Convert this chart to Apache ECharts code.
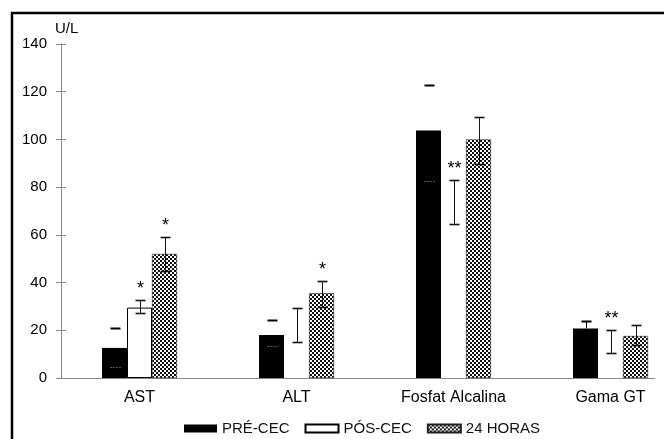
<!DOCTYPE html>
<html>
<head>
<meta charset="utf-8">
<script src="https://cdn.jsdelivr.net/npm/echarts/dist/echarts.min.js"></script>
<style>
html,body{margin:0;padding:0;background:#fff;}
#chart{width:664px;height:439px;}
</style>
</head>
<body>
<div id="chart"></div>
<script>
const categories = ['AST', 'ALT', 'Fosfat Alcalina', 'Gama GT'];
const seriesNames = ['PRÉ-CEC', 'PÓS-CEC', '24 HORAS'];

const preMean = [12.6, 18, 103.7, 20.8];
const preHigh = [21, 24.2, 122.8, 23.9];
const preLow  = [4.6, 13.5, 82.7, null];

const posMean = [29.5, 22, 73.8, 15.3];
const posHigh = [32.7, 29.5, 83, 20];
const posLow  = [27.1, 15, 64.5, 10.6];

const h24Mean = [52, 35.5, 100, 17.6];
const h24High = [59.2, 40.8, 109.2, 22.2];
const h24Low  = [44.8, 29.6, 89.6, 13.8];

const preSig = ['', '', '', ''];
const posSig = ['*', '', '**', '**'];
const h24Sig = ['*', '*', '', ''];

const yMin = 0, yMax = 140, yStep = 20;

// style-only settings
const preStemVisible = [false, false, false, true];
const posOutlined = [true, false, false, false];
const FONT = 'Liberation Sans, Arial, Helvetica, sans-serif';
const BAR_W = 25;

const pc = document.createElement('canvas');
pc.width = 4; pc.height = 4;
const g = pc.getContext('2d');
g.fillStyle = '#fff'; g.fillRect(0, 0, 4, 4);
g.fillStyle = '#111'; g.fillRect(0, 0, 2, 2); g.fillRect(2, 2, 2, 2);
const patternFill = { image: pc, repeat: 'repeat' };

function errData(mean, low, high, sig) {
  return categories.map((c, i) => [i, mean[i], low[i], high[i], sig[i]]);
}

function makeRender(sIdx) {
  return function (params, api) {
    const i = api.value(0);
    const meanV = api.value(1);
    const lowV = api.value(2);
    const highV = api.value(3);
    const sig = sIdx === 0 ? preSig[i] : (sIdx === 1 ? posSig[i] : h24Sig[i]);
    const mid = api.coord([i, meanV]);
    const hi = api.coord([i, highV]);
    const x = Math.round(mid[0] + (sIdx - 1) * BAR_W) + 0.5;
    const hiY = Math.round(hi[1]) + 0.5;
    const half = 5;
    const children = [];
    if (sIdx === 0) {
      children.push({ type: 'line', shape: { x1: x - half, y1: hiY, x2: x + half, y2: hiY }, style: { stroke: '#000', lineWidth: 2 } });
      if (preStemVisible[i]) {
        children.push({ type: 'line', shape: { x1: x, y1: hiY, x2: x, y2: mid[1] }, style: { stroke: '#000', lineWidth: 1 } });
      }
      if (!isNaN(lowV) && lowV !== null) {
        const lo = api.coord([i, lowV]);
        const loY = Math.round(lo[1]) + 0.5;
        children.push({ type: 'line', shape: { x1: x - half, y1: loY, x2: x + half, y2: loY }, style: { stroke: '#aaa', lineWidth: 1, lineDash: [1, 2] } });
      }
    } else {
      const lo = api.coord([i, lowV]);
      const loY = Math.round(lo[1]) + 0.5;
      children.push({ type: 'line', shape: { x1: x, y1: hiY, x2: x, y2: loY }, style: { stroke: '#111', lineWidth: 1 } });
      children.push({ type: 'line', shape: { x1: x - half, y1: hiY, x2: x + half, y2: hiY }, style: { stroke: '#111', lineWidth: 1.6 } });
      children.push({ type: 'line', shape: { x1: x - half, y1: loY, x2: x + half, y2: loY }, style: { stroke: '#111', lineWidth: 1.6 } });
    }
    if (sig) {
      children.push({ type: 'text', style: { x: x, y: hiY - 11, text: sig, fill: '#000', font: '18px ' + FONT, textAlign: 'center', textVerticalAlign: 'middle' } });
    }
    return { type: 'group', children: children };
  };
}

const chart = echarts.init(document.getElementById('chart'), null, { renderer: 'canvas' });

const option = {
  animation: false,
  backgroundColor: '#fff',
  textStyle: { fontFamily: FONT },
  grid: { left: 61, width: 628, top: 44, bottom: 61, containLabel: false, outerBoundsMode: 'none' },
  legend: {
    left: 179, top: 416,
    itemWidth: 33, itemHeight: 8, itemGap: 15,
    icon: 'rect',
    textStyle: { fontSize: 15, color: '#111', fontFamily: FONT },
    data: seriesNames
  },
  xAxis: {
    type: 'category',
    data: categories,
    axisLine: { show: false },
    axisTick: { show: false },
    axisLabel: { color: '#000', fontSize: 16, margin: 12, fontFamily: FONT },
    splitLine: { show: false }
  },
  yAxis: [
    {
      type: 'value', min: yMin, max: yMax, interval: yStep,
      axisLine: { show: true, lineStyle: { color: '#888', width: 1 } },
      axisTick: { show: true, length: 5, lineStyle: { color: '#888' } },
      axisLabel: { color: '#000', fontSize: 15, margin: 14, fontFamily: FONT },
      splitLine: { show: false }
    },
    {
      type: 'value', min: yMin, max: yMax, interval: yStep, position: 'left',
      axisLine: { show: false },
      axisTick: { show: true, inside: true, length: 5, lineStyle: { color: '#888' } },
      axisLabel: { show: false },
      splitLine: { show: false }
    }
  ],
  series: [
    {
      name: seriesNames[0], type: 'bar', barWidth: BAR_W, barGap: '0%', z: 3,
      itemStyle: { color: '#000' },
      data: preMean
    },
    {
      name: seriesNames[1], type: 'bar', barWidth: BAR_W, barGap: '0%', z: 2,
      itemStyle: { color: '#fff', borderColor: '#000', borderWidth: 1 },
      data: posMean.map((v, i) => ({ value: v, itemStyle: { borderWidth: posOutlined[i] ? 1 : 0, color: posOutlined[i] ? '#fff' : 'rgba(255,255,255,0)' } }))
    },
    {
      name: seriesNames[2], type: 'bar', barWidth: BAR_W, barGap: '0%', z: 3,
      itemStyle: { color: patternFill, borderColor: '#222', borderWidth: 0.6 },
      data: h24Mean
    },
    { type: 'custom', renderItem: makeRender(0), data: errData(preMean, preLow, preHigh, preSig), z: 5, silent: true },
    { type: 'custom', renderItem: makeRender(1), data: errData(posMean, posLow, posHigh, posSig), z: 5, silent: true },
    { type: 'custom', renderItem: makeRender(2), data: errData(h24Mean, h24Low, h24High, h24Sig), z: 5, silent: true }
  ],
  graphic: [
    { type: 'polyline', shape: { points: [[12, 439], [12, 13], [664, 13]] }, style: { stroke: '#000', lineWidth: 2.5, fill: null }, z: 10 },
    { type: 'line', shape: { x1: 61, y1: 378.5, x2: 655, y2: 378.5 }, style: { stroke: '#888', lineWidth: 1 }, z: 1 },
    { type: 'text', left: 55, top: 21, style: { text: 'U/L', font: '15px ' + FONT, fill: '#000' } }
  ]
};
chart.setOption(option);
</script>
</body>
</html>
